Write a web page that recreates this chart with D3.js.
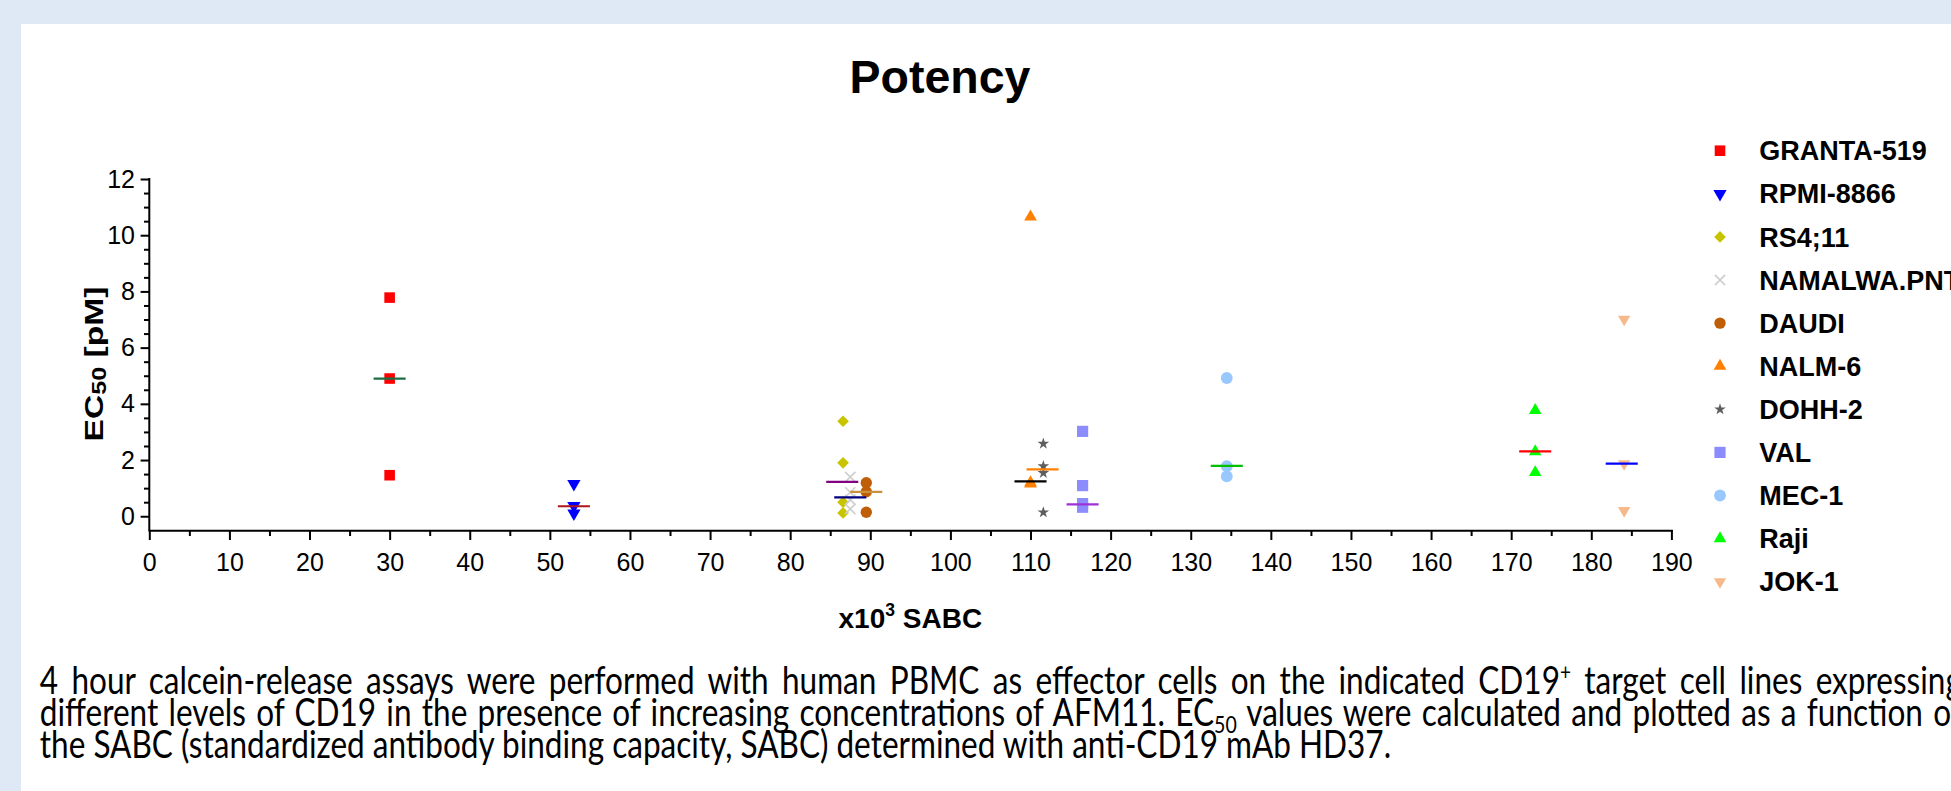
<!DOCTYPE html>
<html>
<head>
<meta charset="utf-8">
<title>Potency</title>
<script src="https://cdn.jsdelivr.net/npm/d3@7"></script>
<style>
  html, body { margin: 0; padding: 0; background: #fff; overflow: hidden; }
  svg { display: block; }
</style>
</head>
<body>
<div id="chart"></div>
<script>
// cell lines, in legend order
const cellLines = ["GRANTA-519", "RPMI-8866", "RS4;11", "NAMALWA.PNT", "DAUDI", "NALM-6",
                   "DOHH-2", "VAL", "MEC-1", "Raji", "JOK-1"];
// SABC (x10^3) for each cell line
const sabc = [30, 53, 86.6, 87.5, 89.5, 110, 111.6, 116.5, 134.5, 173, 184.1];
// EC50 replicates [pM]
const ec50 = [
  [7.78, 4.9, 1.46],
  [1.15, 0.37, 0.1],
  [3.38, 1.9, 0.5, 0.12],
  [1.4, 0.85, 0.59, 0.26],
  [1.19, 0.87, 0.14],
  [10.65, 1.2, 1.15],
  [2.58, 1.78, 1.54, 0.14],
  [3.02, 1.09, 0.45, 0.32],
  [4.92, 1.78, 1.42],
  [3.77, 2.3, 1.56],
  [7.01, 1.87, 0.2]
];
// median bars
const medianX = [30, 53, 86.5, 87.5, 89.5, 110, 111.5, 116.5, 134.5, 173, 183.8];
const medianY = [4.9, 0.355, 1.22, 0.675, 0.865, 1.24, 1.67, 0.42, 1.79, 2.31, 1.87];

const markerColors = ["#ff0000", "#0000ff", "#c8c400", "#cfcfcf", "#c05e08", "#ff7f00",
                      "#5e5e5e", "#8c8cff", "#99c8ff", "#00ff00", "#f5b98c"];
const medianColors = ["#1d6e45", "#b0141c", "#800080", "#000080", "#c8913c", "#000000",
                      "#ff8000", "#a030d8", "#00c000", "#ff0000", "#0000ff"];
const markerShapes = ["square", "triangleDown", "diamond", "x", "circle", "triangle",
                      "star", "square", "circle", "triangle", "triangleDown"];
const markerSizes = [112, 76, 68, 105, 102, 70, 42, 125, 110, 68, 66];

const xTickValues = d3.range(0, 191, 10);
const xMinorTicks = d3.range(5, 190, 10);
const yTickValues = [0, 2, 4, 6, 8, 10, 12];
const yMinorTicks = d3.range(0.5, 12, 0.5).filter(v => v % 2 !== 0);

const captionLines = [
  [["4 hour calcein-release assays were performed with human PBMC as effector cells on the indicated CD19"], ["+", "sup"], [" target cell lines expressing"]],
  [["different levels of CD19 in the presence of increasing concentrations of AFM11. EC"], ["50", "sub"], [" values were calculated and plotted as a function of"]],
  [["the SABC (standardized antibody binding capacity, SABC) determined with anti-CD19 mAb HD37."]]
];

const W = 1951, H = 791;
const arial = "'Liberation Sans', Arial, sans-serif";

const svg = d3.select("#chart").append("svg")
    .attr("width", W)
    .attr("height", H);

// page background
svg.append("rect").attr("width", W).attr("height", H).attr("fill", "#fff");
svg.append("rect").attr("width", W).attr("height", 24).attr("fill", "#dfe9f5");
svg.append("rect").attr("width", 21).attr("height", H).attr("fill", "#dfe9f5");

const x = d3.scaleLinear().domain([0, 190]).range([149.3, 1671.4]);
const y = d3.scaleLinear().domain([-0.5, 12]).range([530.3, 179]);

// custom X marker
const crossX = {
  draw(context, size) {
    const r = Math.sqrt(size) / 2;
    context.moveTo(-r, -r); context.lineTo(r, r);
    context.moveTo(r, -r); context.lineTo(-r, r);
  }
};
const symbolTypes = {
  square: d3.symbolSquare, diamond: d3.symbolSquare, circle: d3.symbolCircle,
  triangle: d3.symbolTriangle, triangleDown: d3.symbolTriangle,
  star: d3.symbolStar, x: crossX
};
const symbolRotate = { diamond: 45, triangleDown: 180 };

function drawMarker(g, i, cx, cy) {
  const shape = markerShapes[i];
  const p = g.append("path")
      .attr("d", d3.symbol(symbolTypes[shape], markerSizes[i])())
      .attr("transform", `translate(${cx},${cy}) rotate(${symbolRotate[shape] || 0})`);
  if (shape === "x") {
    p.attr("fill", "none").attr("stroke", markerColors[i]).attr("stroke-width", 1.7);
  } else {
    p.attr("fill", markerColors[i]);
  }
}

// title
svg.append("text")
    .attr("x", 940).attr("y", 93.3)
    .attr("text-anchor", "middle")
    .attr("font-family", arial).attr("font-weight", "bold").attr("font-size", 46.5)
    .text("Potency");

// axes
function styleAxis(g) {
  g.selectAll("path, line").attr("stroke", "#000").attr("stroke-width", 2);
  g.select(".domain").attr("stroke-linecap", "square");
  g.selectAll("text").attr("font-family", arial).attr("font-size", 25).attr("fill", "#000");
}

const gx = svg.append("g").attr("transform", `translate(0,${y(-0.5)})`);
gx.call(d3.axisBottom(x).tickValues(xTickValues).tickSize(9.7).tickPadding(13.3).tickSizeOuter(0));
styleAxis(gx);
const gxm = svg.append("g").attr("transform", `translate(0,${y(-0.5)})`);
gxm.call(d3.axisBottom(x).tickValues(xMinorTicks).tickSize(5.7).tickFormat("").tickSizeOuter(0));
gxm.select(".domain").remove();
styleAxis(gxm);

const gy = svg.append("g").attr("transform", `translate(${x(0)},0)`);
gy.call(d3.axisLeft(y).tickValues(yTickValues).tickSize(8.7).tickPadding(5.6).tickSizeOuter(0));
gy.select(".domain").attr("d", `M0,${y(-0.5)}V${y(12)}`);
styleAxis(gy);
const gym = svg.append("g").attr("transform", `translate(${x(0)},0)`);
gym.call(d3.axisLeft(y).tickValues(yMinorTicks).tickSize(5.3).tickFormat("").tickSizeOuter(0));
gym.select(".domain").remove();
styleAxis(gym);

// axis titles
const xLab = svg.append("text")
    .attr("x", (x(0) + x(190)) / 2).attr("y", 628.3)
    .attr("text-anchor", "middle")
    .attr("font-family", arial).attr("font-weight", "bold").attr("font-size", 28);
xLab.append("tspan").text("x10");
xLab.append("tspan").attr("font-size", 17.5).attr("dy", -12).text("3");
xLab.append("tspan").attr("dy", 12).text(" SABC");

const yLab = svg.append("text")
    .attr("text-anchor", "middle")
    .attr("font-family", arial).attr("font-weight", "bold").attr("font-size", 26);
yLab.append("tspan").text("EC");
yLab.append("tspan").attr("font-size", 19.5).attr("dy", 2.5).text("50");
yLab.append("tspan").attr("dy", -2.5).text(" [pM]");
const yLabW = yLab.node().getComputedTextLength();
yLab.attr("transform", `translate(103.3,364) rotate(-90) scale(${155 / yLabW},1)`);

// data points
const points = [];
ec50.forEach((vals, i) => vals.forEach(v => points.push({ i, sabc: sabc[i], ec50: v })));
const gPts = svg.append("g");
points.forEach(d => drawMarker(gPts, d.i, x(d.sabc), y(d.ec50)));

// median bars
svg.append("g").selectAll("line")
  .data(cellLines.map((name, i) => ({ i, cx: medianX[i], v: medianY[i] })))
  .join("line")
    .attr("x1", d => x(d.cx - 2))
    .attr("x2", d => x(d.cx + 2))
    .attr("y1", d => y(d.v))
    .attr("y2", d => y(d.v))
    .attr("stroke", d => medianColors[d.i])
    .attr("stroke-width", 2.2);

// legend
const legend = svg.append("g");
cellLines.forEach((name, i) => {
  const cy = 150.7 + i * 43.1;
  drawMarker(legend, i, 1720, cy);
  legend.append("text")
      .attr("x", 1759.3).attr("y", cy).attr("dy", "0.358em")
      .attr("font-family", arial).attr("font-weight", "bold").attr("font-size", 27)
      .text(name);
});

// caption (justified paragraph, clipped at right edge)
const capFont = "Lato, 'Open Sans', sans-serif";
const capSize = 38;
const capLeft = 39.8;
const capBaselines = [693.5, 725.5, 757.5];
const capWidths = [1923, 1923, 1352];

function captionText(segs) {
  const t = svg.append("text")
      .attr("font-family", capFont).attr("font-size", capSize).attr("fill", "#000")
      .attr("x", 0).attr("y", 0);
  let shift = 0;
  segs.forEach(([s, kind]) => {
    const ts = t.append("tspan");
    if (kind === "sup") { ts.attr("font-size", capSize * 0.6).attr("dy", -14 - shift); shift = -14; }
    else if (kind === "sub") { ts.attr("font-size", capSize * 0.62).attr("dy", 7 - shift); shift = 7; }
    else { if (shift) ts.attr("dy", -shift); shift = 0; }
    ts.text(s);
  });
  return t;
}

const capTexts = captionLines.map(segs => captionText(segs));
// glyph compression taken from the last (unjustified) line
const ratio = capWidths[2] / capTexts[2].node().getComputedTextLength();
capTexts.forEach((t, k) => {
  if (k < 2) {
    const full = captionLines[k].map(s => s[0]).join("");
    const nSpaces = full.split(" ").length - 1;
    const w0 = t.node().getComputedTextLength();
    t.attr("word-spacing", (capWidths[k] / ratio - w0) / nSpaces);
  }
  t.attr("transform", `translate(${capLeft},${capBaselines[k]}) scale(${ratio},1)`);
});
</script>
</body>
</html>
